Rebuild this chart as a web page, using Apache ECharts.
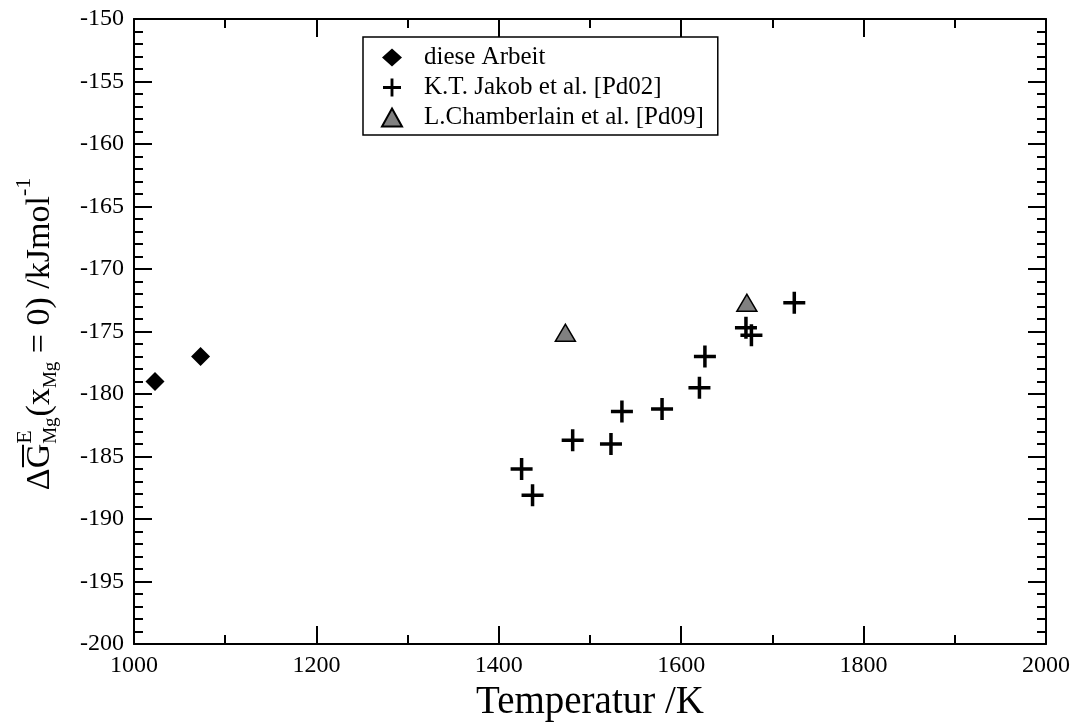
<!DOCTYPE html>
<html>
<head>
<meta charset="utf-8">
<script src="https://cdn.jsdelivr.net/npm/echarts@6/dist/echarts.min.js"></script>
<style>
html,body{margin:0;padding:0;background:#fff;}
#c{width:1077px;height:727px;}
</style>
</head>
<body>
<div id="c"></div>
<script>
// ---- data ----
const seriesNames = ['diese Arbeit', 'K.T. Jakob et al. [Pd02]', 'L.Chamberlain et al. [Pd09]'];
const dieseArbeit = [[1023, -179.0], [1073, -177.0]];
const jakob = [
  [1425, -186.0], [1437, -188.1], [1481, -183.7], [1523, -184.0], [1535, -181.4],
  [1579, -181.2], [1620, -179.5], [1626, -177.0], [1671, -174.7], [1677, -175.3],
  [1724, -172.7]
];
const chamberlain = [[1473, -175.1], [1672, -172.7]];
const xTicks = {min: 1000, max: 2000, interval: 200};
const yTicks = {min: -200, max: -150, interval: 5};
const xTitle = 'Temperatur /K';

// ---- styles ----
const FONT = '"Liberation Serif", "DejaVu Serif", serif';
const plusPath = 'path://M9.25,0H12.75V9.25H22V12.75H12.75V22H9.25V12.75H0V9.25H9.25Z';

const chart = echarts.init(document.getElementById('c'), null, {renderer: 'canvas'});

function axisBase(showLabel) {
  return {
    type: 'value',
    axisLine: {show: true, onZero: false, lineStyle: {color: '#000', width: 2}},
    axisTick: {show: true, inside: true, length: 18, lineStyle: {color: '#000', width: 2}},
    minorTick: {show: true, length: 9, lineStyle: {color: '#000', width: 2}},
    splitLine: {show: false},
    minorSplitLine: {show: false},
    axisLabel: {show: showLabel, color: '#000', fontFamily: FONT, fontSize: 24, margin: 10,
      formatter: v => String(v)}
  };
}

const xBottom = Object.assign(axisBase(true), {
  position: 'bottom', min: xTicks.min, max: xTicks.max, interval: xTicks.interval,
  name: xTitle, nameLocation: 'middle', nameGap: 30,
  nameTextStyle: {color: '#000', fontFamily: FONT, fontSize: 39}
});
xBottom.minorTick.splitNumber = 2;
const xTop = Object.assign(axisBase(false), {
  position: 'top', min: xTicks.min, max: xTicks.max, interval: xTicks.interval
});
xTop.minorTick.splitNumber = 2;
const yLeft = Object.assign(axisBase(true), {
  position: 'left', min: yTicks.min, max: yTicks.max, interval: yTicks.interval
});
yLeft.minorTick.splitNumber = 5;
const yRight = Object.assign(axisBase(false), {
  position: 'right', min: yTicks.min, max: yTicks.max, interval: yTicks.interval
});
yRight.minorTick.splitNumber = 5;

// ---- rotated y-axis title built from text pieces ----
const mctx = document.createElement('canvas').getContext('2d');
function tw(t, size) { mctx.font = size + 'px ' + FONT; return mctx.measureText(t).width; }
const MAIN = 34, SUP = 22, SUB = 19;
const pieces = [];
let cx = 0;
function addText(t, size, dy) {
  pieces.push({type: 'text', x: cx, y: dy, style: {text: t, font: size + 'px ' + FONT, fill: '#000', align: 'left', verticalAlign: 'middle'}});
  const w = tw(t, size);
  cx += w;
  return w;
}
addText('Δ', MAIN, 0);
const gStart = cx;
const gW = addText('G', MAIN, 0);
pieces.push({type: 'rect', shape: {x: gStart + 1, y: -18, width: gW - 2, height: 2}, style: {fill: '#000'}});
const stackStart = cx;
addText('E', SUP, -15);
const wE = cx - stackStart;
cx = stackStart;
addText('Mg', SUB, 11);
cx = Math.max(cx, stackStart + wE) + 1;
addText('(x', MAIN, 0);
addText('Mg', SUB, 11);
addText(' = 0) /kJmol', MAIN, 0);
addText('-1', SUP, -16);
const totalW = cx;
pieces.forEach(p => { if (p.shape) p.shape.x -= totalW / 2; else p.x -= totalW / 2; });

chart.setOption({
  animation: false,
  backgroundColor: '#fff',
  grid: {left: 134, right: 31, top: 19, bottom: 70, containLabel: false},
  xAxis: [xBottom, xTop],
  yAxis: [yLeft, yRight],
  legend: {
    left: 363, top: 37,
    orient: 'vertical',
    backgroundColor: '#fff',
    borderColor: '#000', borderWidth: 1.5, borderRadius: 0,
    padding: [8, 14, 5, 18],
    itemWidth: 20, itemHeight: 18, itemGap: 5,
    textStyle: {color: '#000', fontFamily: FONT, fontSize: 25, padding: [0, 0, 0, 17]},
    data: [
      {name: seriesNames[0], icon: 'diamond', itemStyle: {opacity: 1}},
      {name: seriesNames[1], icon: plusPath, itemStyle: {opacity: 1}},
      {name: seriesNames[2], icon: 'triangle', itemStyle: {opacity: 1}}
    ],
    selectedMode: false
  },
  graphic: [{
    type: 'group',
    x: 40, y: 334,
    rotation: Math.PI / 2,
    children: pieces
  }],
  series: [
    {
      name: seriesNames[0], type: 'scatter', data: dieseArbeit,
      symbol: 'diamond', symbolSize: 19,
      itemStyle: {color: '#000', opacity: 1}, z: 3
    },
    {
      name: seriesNames[1], type: 'scatter', data: jakob,
      symbol: plusPath, symbolSize: 22,
      itemStyle: {color: '#000', opacity: 1}, z: 4
    },
    {
      name: seriesNames[2], type: 'scatter', data: chamberlain,
      symbol: 'triangle', symbolSize: [20, 17],
      itemStyle: {color: '#808080', borderColor: '#000', borderWidth: 1.5, opacity: 1}, z: 2
    }
  ]
});
</script>
</body>
</html>
